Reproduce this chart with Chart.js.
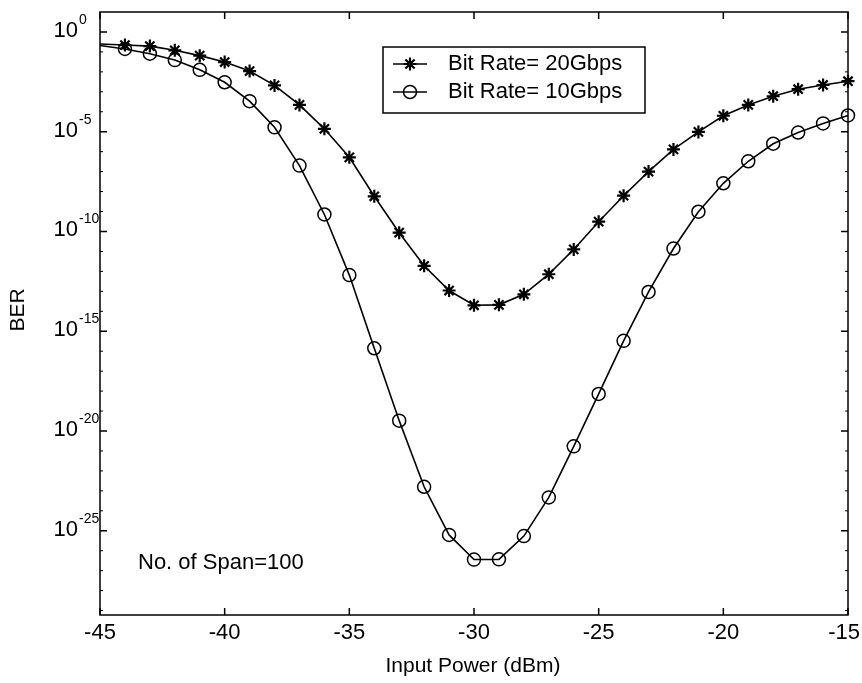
<!DOCTYPE html>
<html>
<head>
<meta charset="utf-8">
<title>BER vs Input Power</title>
<script src="https://cdn.jsdelivr.net/npm/chart.js@4.4.0/dist/chart.umd.min.js"></script>
<style>
    body { margin: 0; background: #fff; }
    canvas { display: block; }
</style>
</head>
<body>
<canvas id="berChart" width="862" height="683"></canvas>
<script>
// input power, dBm
const powerDbm = [-45, -44, -43, -42, -41, -40, -39, -38, -37, -36, -35, -34, -33, -32, -31, -30,
    -29, -28, -27, -26, -25, -24, -23, -22, -21, -20, -19, -18, -17, -16, -15];

// BER (20 Gbps, stars)
const ber20 = [2.5e-1, 2.2e-1, 1.95e-1, 1.2e-1, 6.5e-2, 3.1e-2, 1.1e-2, 2.1e-3, 2.2e-4, 1.4e-5, 5.2e-7,
    5.8e-9, 8.7e-11, 1.9e-12, 1.1e-13, 2.0e-14, 2.1e-14, 7.1e-14, 7.2e-13, 1.26e-11, 3.1e-10,
    6.2e-9, 1.0e-7, 1.3e-6, 9.8e-6, 6.3e-5, 2.2e-4, 6.0e-4, 1.35e-3, 2.2e-3, 3.4e-3];

// BER (10 Gbps, circles)
const ber10 = [2.1e-1, 1.4e-1, 8.1e-2, 3.9e-2, 1.26e-2, 3.0e-3, 3.4e-4, 1.66e-5, 2.0e-7, 7.1e-10, 6.5e-13,
    1.4e-16, 3.3e-20, 1.6e-23, 6.2e-26, 3.6e-27, 3.7e-27, 5.4e-26, 4.7e-24, 1.7e-21, 7.2e-19,
    3.3e-16, 9.3e-14, 1.4e-11, 9.8e-10, 2.6e-8, 3.3e-7, 2.5e-6, 9.1e-6, 2.6e-5, 6.5e-5];

const xTickValues = [-45, -40, -35, -30, -25, -20, -15];
const yTickValues = [1, 1e-5, 1e-10, 1e-15, 1e-20, 1e-25];
const yTickExponents = ['0', '-5', '-10', '-15', '-20', '-25'];
const seriesLabels = ['Bit Rate= 20Gbps', 'Bit Rate= 10Gbps'];
const seriesMarkers = ['star', 'circle'];
const xTitle = 'Input Power (dBm)';
const yTitle = 'BER';
const noteText = 'No. of Span=100';

const FONT = "'Liberation Sans', Arial, sans-serif";

function toPoints(ys) {
    return powerDbm.map((x, i) => ({ x: x, y: ys[i] }));
}

function markerFor(style, x, y, ctx) {
    const opts = { pointStyle: style, radius: 6.5, rotation: 0, borderWidth: style === 'star' ? 2.2 : 1.5 };
    ctx.fillStyle = 'rgba(0,0,0,0)';
    ctx.strokeStyle = '#000';
    ctx.lineWidth = opts.borderWidth;
    if (Chart.helpers && Chart.helpers.drawPoint) {
        Chart.helpers.drawPoint(ctx, opts, x, y);
    } else {
        ctx.beginPath();
        ctx.arc(x, y, 6.5, 0, Math.PI * 2);
        ctx.stroke();
    }
}

const framePlugin = {
    id: 'matlabFrame',
    afterDraw(chart) {
        const ctx = chart.ctx;
        const area = chart.chartArea;
        const xs = chart.scales.x;
        const ys = chart.scales.y;
        ctx.save();
        ctx.strokeStyle = '#000';
        ctx.fillStyle = '#000';
        ctx.lineWidth = 1.5;
        ctx.strokeRect(area.left, area.top, area.right - area.left, area.bottom - area.top);

        // x ticks and labels
        ctx.font = '22px ' + FONT;
        ctx.textAlign = 'center';
        ctx.textBaseline = 'middle';
        xTickValues.forEach(v => {
            const px = xs.getPixelForValue(v);
            ctx.beginPath();
            ctx.moveTo(px, area.bottom);
            ctx.lineTo(px, area.bottom - 7);
            ctx.moveTo(px, area.top);
            ctx.lineTo(px, area.top + 7);
            ctx.stroke();
            const w = ctx.measureText(String(v)).width;
            ctx.fillText(String(v), Math.min(px, 860 - w / 2), 633);
        });

        // minor decade ticks on y
        ctx.lineWidth = 1;
        for (let e = 0; e >= -29; e--) {
            if (e % 5 === 0) continue;
            const py = ys.getPixelForValue(Math.pow(10, e));
            ctx.beginPath();
            ctx.moveTo(area.left, py);
            ctx.lineTo(area.left + 3, py);
            ctx.moveTo(area.right, py);
            ctx.lineTo(area.right - 3, py);
            ctx.stroke();
        }

        // y ticks and labels (10 with superscript exponent)
        ctx.lineWidth = 1.5;
        yTickValues.forEach((v, i) => {
            const py = ys.getPixelForValue(v);
            ctx.beginPath();
            ctx.moveTo(area.left, py);
            ctx.lineTo(area.left + 7, py);
            ctx.moveTo(area.right, py);
            ctx.lineTo(area.right - 7, py);
            ctx.stroke();
            ctx.font = '22px ' + FONT;
            ctx.textAlign = 'right';
            ctx.textBaseline = 'alphabetic';
            ctx.fillText('10', 78, py + 5);
            ctx.font = '14px ' + FONT;
            ctx.textAlign = 'left';
            ctx.fillText(yTickExponents[i], 79, py - 8);
        });

        // axis titles
        ctx.font = '21px ' + FONT;
        ctx.textAlign = 'center';
        ctx.textBaseline = 'middle';
        ctx.fillText(xTitle, 473, 666);
        ctx.save();
        ctx.translate(18, 310);
        ctx.rotate(-Math.PI / 2);
        ctx.fillText(yTitle, 0, 0);
        ctx.restore();

        // note
        ctx.font = '22px ' + FONT;
        ctx.textAlign = 'left';
        ctx.fillText(noteText, 138, 563);

        // legend box
        ctx.lineWidth = 1.5;
        ctx.fillStyle = '#fff';
        ctx.fillRect(383, 47, 262, 66);
        ctx.strokeRect(383, 47, 262, 66);
        const rows = [64, 92];
        seriesLabels.forEach((label, i) => {
            const y = rows[i];
            ctx.strokeStyle = '#000';
            ctx.lineWidth = 1.5;
            ctx.beginPath();
            ctx.moveTo(393, y);
            ctx.lineTo(427, y);
            ctx.stroke();
            markerFor(seriesMarkers[i], 410, y, ctx);
            ctx.font = '22px ' + FONT;
            ctx.textAlign = 'left';
            ctx.textBaseline = 'middle';
            ctx.fillStyle = '#000';
            ctx.fillText(label, 448, y);
        });
        ctx.restore();
    }
};

const hideFirst = ctx => ctx.dataIndex === 0 ? 0 : 6.5;

new Chart(document.getElementById('berChart').getContext('2d'), {
    type: 'line',
    data: {
        datasets: [
            {
                label: seriesLabels[0],
                data: toPoints(ber20),
                borderColor: '#000',
                backgroundColor: 'rgba(0,0,0,0)',
                borderWidth: 1.6,
                pointStyle: 'star',
                pointRadius: hideFirst,
                pointBorderWidth: 2.2,
                pointBorderColor: '#000',
                tension: 0,
                clip: false
            },
            {
                label: seriesLabels[1],
                data: toPoints(ber10),
                borderColor: '#000',
                backgroundColor: 'rgba(0,0,0,0)',
                borderWidth: 1.6,
                pointStyle: 'circle',
                pointRadius: hideFirst,
                pointBorderWidth: 1.5,
                pointBorderColor: '#000',
                pointBackgroundColor: 'rgba(0,0,0,0)',
                tension: 0,
                clip: false
            }
        ]
    },
    options: {
        responsive: false,
        animation: false,
        layout: {
            padding: { left: 100, right: 14, top: 12, bottom: 68 }
        },
        plugins: {
            legend: { display: false },
            tooltip: { enabled: false }
        },
        scales: {
            x: {
                type: 'linear',
                min: -45,
                max: -15,
                display: false
            },
            y: {
                type: 'logarithmic',
                min: 6e-30,
                max: 10,
                display: false
            }
        }
    },
    plugins: [framePlugin]
});
</script>
</body>
</html>
